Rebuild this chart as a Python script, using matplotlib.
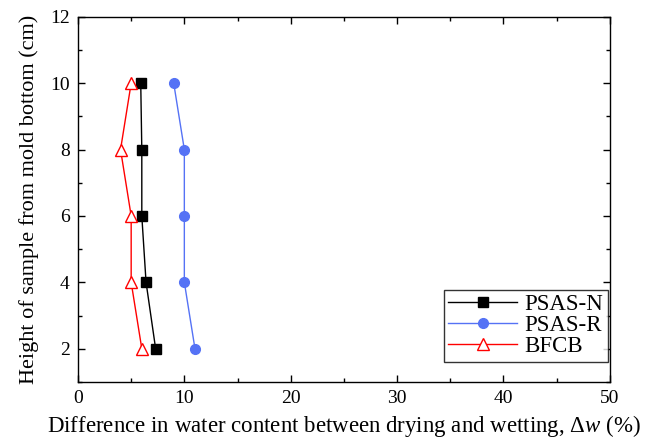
import matplotlib
matplotlib.use("Agg")
import matplotlib.pyplot as plt
from matplotlib.ticker import MultipleLocator

plt.rcParams["font.family"] = ["Liberation Serif", "DejaVu Serif"]
plt.rcParams["mathtext.fontset"] = "custom"
plt.rcParams["mathtext.rm"] = "Liberation Serif"
plt.rcParams["mathtext.it"] = "Liberation Serif:italic"

# Sample heights (cm) and water-content differences (%)
height = [2, 4, 6, 8, 10]
psas_n = [7.3, 6.4, 6.0, 6.0, 5.9]
psas_r = [11.0, 10.0, 10.0, 10.0, 9.0]
bfcb = [6.0, 5.0, 5.0, 4.0, 5.0]

fig = plt.figure(figsize=(6.5, 4.42), dpi=100)
ax = fig.add_axes([0.12, 0.136, 0.818, 0.826])

ax.plot(psas_n, height, color="black", lw=1.0, marker="s", ms=7,
        label="PSAS-N")
ax.plot(psas_r, height, color="#5572F5", lw=1.0, marker="o", ms=7,
        label="PSAS-R")
ax.plot(bfcb, height, color="red", lw=1.0, marker="^", ms=8,
        mfc="white", mec="red", label="BFCB")

ax.set_xlim(0, 50)
ax.set_ylim(1, 12)
ax.xaxis.set_major_locator(MultipleLocator(10))
ax.xaxis.set_minor_locator(MultipleLocator(5))
ax.yaxis.set_major_locator(MultipleLocator(2))
ax.yaxis.set_minor_locator(MultipleLocator(1))
ax.tick_params(which="both", direction="in", top=True, right=True,
               labelsize=14, width=1.0)
ax.tick_params(which="major", length=5, pad=6)
ax.tick_params(which="minor", length=3)
for s in ax.spines.values():
    s.set_linewidth(1.0)

ax.set_xlabel(r"Difference in water content between drying and wetting, $\mathit{Δw}$ (%)",
              fontsize=16.5, labelpad=4)
ax.set_ylabel("Height of sample from mold bottom (cm)", fontsize=16,
              labelpad=8)

leg = ax.legend(loc="lower right", bbox_to_anchor=(0.996, 0.055),
                borderaxespad=0, fontsize=16.5, frameon=True, fancybox=False,
                edgecolor="black", handlelength=3.0, labelspacing=0.0,
                borderpad=0.2, handletextpad=0.3)
leg.get_frame().set_linewidth(1.0)

fig.savefig("out.png", dpi=100)
